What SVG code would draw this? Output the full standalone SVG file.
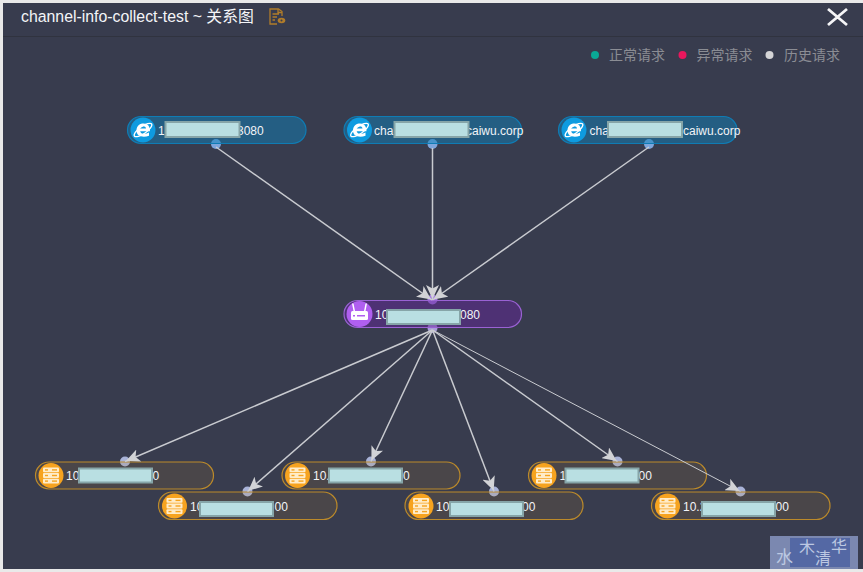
<svg xmlns="http://www.w3.org/2000/svg" width="863" height="572" viewBox="0 0 863 572">
<style>
text{font-family:"Liberation Sans","Noto Sans CJK SC",sans-serif}
.t{font-size:12px;fill:#f2f4f8}
.edge{stroke:#c9cbd0;stroke-width:1.5;fill:none;marker-end:url(#ah)}
.dot{fill:#a9b3d8}
.db{fill:#7ea6dc}
.pb{fill:#0f7fb8;fill-opacity:.5;stroke:#0f7cb4;stroke-width:1.2}
.pp{fill:#64269a;fill-opacity:.5;stroke:#9a62d4;stroke-width:1.2}
.po{fill:#b98a2c;fill-opacity:.14;stroke:#bc8a2a;stroke-width:1.2}
.mask{fill:#b9dfe2;stroke:#86a5a8;stroke-width:2}
.leg{font-size:14px;fill:#8b8d94}
</style>
<defs>
<marker id="ah" viewBox="0 0 14 13" refX="15" refY="6.500" markerWidth="14" markerHeight="13" orient="auto" markerUnits="userSpaceOnUse">
<path d="M0 0L14 6.500L0 13L3.500 6.500Z" fill="#d2d3d6"/>
</marker>
<g id="ie">
<circle r="12.500" fill="#0e9be0"/>
<ellipse cx="0" cy="0" rx="10.500" ry="3.600" fill="none" stroke="#fff" stroke-width="1.300" transform="rotate(-35)"/>
<path d="M-6.500 0.800C-6.500-5 -2.500-6.500 0.500-6.500C5-6.500 7-3.500 7 1.200H-2.800C-2.600 4 2 4.600 6 2.600V5.800C0 8 -6.500 6.400 -6.500 0.800ZM-2.800-1.400H3C2.800-4.400-2.400-4.400-2.800-1.400Z" fill="#fff" fill-rule="evenodd"/>
</g>
<g id="srv">
<circle r="12.500" fill="#f6a31f"/>
<g fill="#ffecc9">
<rect x="-8" y="-8" width="16" height="4.800" rx="1"/>
<rect x="-8" y="-2.400" width="16" height="4.800" rx="1"/>
<rect x="-8" y="3.200" width="16" height="4.800" rx="1"/>
</g>
<g fill="#f6a31f"><rect x="-6" y="-6.300" width="3" height="1.400"/><rect x="1" y="-6.300" width="5" height="1.400"/><rect x="-6" y="-.700" width="3" height="1.400"/><rect x="1" y="-.700" width="5" height="1.400"/><rect x="-6" y="4.900" width="3" height="1.400"/><rect x="1" y="4.900" width="5" height="1.400"/></g>
</g>
</defs>
<rect width="863" height="572" fill="#e9e9e9"/>
<rect x="3" y="3" width="860" height="566" fill="#383c4e"/>
<path d="M3 36.500H863" stroke="#30333f" stroke-width="1"/>
<g id="header">
<text x="21" y="22" font-size="15.850" fill="#f4f5f8">channel-info-collect-test ~ 关系图</text>
<g fill="none" stroke="#b07c2a" stroke-width="1.300">
<path d="M282 16V11.500L278.500 9H270V24H277"/>
<path d="M278 9V12.500H282M272.500 14H279M272.500 17H277M272.500 20H275"/>
</g>
<ellipse cx="281.500" cy="20.500" rx="3.800" ry="2.800" fill="#b07c2a"/><circle cx="281.500" cy="20.500" r="1" fill="#383c4e"/>
<path d="M828 9L847 25M847 9L828 25" stroke="#f5f5f7" stroke-width="2.800"/>
</g>
<g id="legend">
<circle cx="595" cy="55" r="4" fill="#0aa896"/><text x="609" y="60" class="leg">正常请求</text>
<circle cx="682.500" cy="55" r="4" fill="#e8175d"/><text x="696.500" y="60" class="leg">异常请求</text>
<circle cx="769.500" cy="55" r="4" fill="#d4d4d6"/><text x="784" y="60" class="leg">历史请求</text>
</g>
<g id="n1"><circle class="db" cx="216" cy="144" r="5"/><rect class="pb" x="127.500" y="116.500" width="178.500" height="27" rx="13.500"/><use href="#ie" x="143" y="130"/><text class="t" x="158" y="134.500">1</text><text class="t" x="237" y="134.500">3080</text><rect class="mask" x="165.500" y="122" width="74" height="15"/></g>
<g id="n2"><circle class="db" cx="432.500" cy="144" r="5"/><rect class="pb" x="344" y="116.500" width="177.500" height="27" rx="13.500"/><use href="#ie" x="359.500" y="130"/><text class="t" x="374" y="134.500">cha</text><text class="t" x="466" y="134.500">caiwu.corp</text><rect class="mask" x="394.500" y="122" width="74" height="15"/></g>
<g id="n3"><circle class="db" cx="649" cy="144" r="5"/><rect class="pb" x="558.500" y="116.500" width="178.500" height="27" rx="13.500"/><use href="#ie" x="574" y="130"/><text class="t" x="589.500" y="134.500">cha</text><text class="t" x="683" y="134.500">caiwu.corp</text><rect class="mask" x="608" y="122" width="74" height="15"/></g>
<g id="n4"><circle class="dot" cx="432.500" cy="299.500" r="5" style="fill:#a47fe0"/><circle class="dot" cx="432.500" cy="328" r="5" style="fill:#a99fd8"/><rect class="pp" x="344" y="300.500" width="177.500" height="27" rx="13.500"/><circle cx="359.500" cy="314" r="13" fill="#b05ff0"/><g fill="#fff"><rect x="351" y="311" width="17" height="9" rx="1.500"/><path d="M353.500 311L352 303.500H353.500L355 311ZM365.500 311L367 303.500H365.500L364 311Z"/></g><rect x="353" y="315" width="2" height="1.500" fill="#b05ff0"/><rect x="357" y="315" width="8" height="1.500" fill="#b05ff0"/><text class="t" x="375" y="318.500">10</text><text class="t" x="460" y="318.500">080</text><rect class="mask" x="387" y="310" width="73" height="14"/></g>
<g id="n5"><circle class="dot" cx="125" cy="461.500" r="5"/><rect class="po" x="35.500" y="462" width="178" height="27" rx="13.500"/><use href="#srv" x="51" y="475.500"/><text class="t" x="66" y="480">10</text><text class="t" x="152.500" y="480">0</text><rect class="mask" x="79" y="468.500" width="73" height="14"/></g>
<g id="n6"><circle class="dot" cx="247.500" cy="491.500" r="5"/><rect class="po" x="158.500" y="492" width="178.500" height="27.500" rx="13.700"/><use href="#srv" x="174.500" y="506"/><text class="t" x="190" y="510.500">10</text><text class="t" x="274.500" y="510.500">00</text><rect class="mask" x="200" y="502" width="73" height="14"/></g>
<g id="n7"><circle class="dot" cx="371" cy="461.500" r="5"/><rect class="po" x="282" y="462" width="178" height="27" rx="13.500"/><use href="#srv" x="297.500" y="475.500"/><text class="t" x="313" y="480">10.</text><text class="t" x="403" y="480">0</text><rect class="mask" x="329" y="468.500" width="73" height="14"/></g>
<g id="n8"><circle class="dot" cx="494" cy="491.500" r="5"/><rect class="po" x="405" y="492" width="178" height="27.500" rx="13.700"/><use href="#srv" x="421" y="506"/><text class="t" x="436" y="510.500">10</text><text class="t" x="522" y="510.500">00</text><rect class="mask" x="450" y="502" width="73" height="14"/></g>
<g id="n9"><circle class="dot" cx="617.500" cy="461.500" r="5"/><rect class="po" x="528.500" y="462" width="178" height="27" rx="13.500"/><use href="#srv" x="544" y="475.500"/><text class="t" x="559.500" y="480">1</text><text class="t" x="638.500" y="480">00</text><rect class="mask" x="565.500" y="468.500" width="73" height="14"/></g>
<g id="n10"><circle class="dot" cx="740.500" cy="491.500" r="5"/><rect class="po" x="651.500" y="492" width="178.500" height="27.500" rx="13.700"/><use href="#srv" x="667.500" y="506"/><text class="t" x="683" y="510.500">10.2</text><text class="t" x="775.500" y="510.500">00</text><rect class="mask" x="702" y="502" width="73" height="14"/></g>
<g id="connectors">
<path class="edge" d="M216 147L432 300"/>
<path class="edge" d="M432.500 148V300"/>
<path class="edge" d="M649 147L432.500 300"/>
<path class="edge" d="M432.500 330L125 461.500"/>
<path class="edge" d="M432.500 330L247.500 491.500"/>
<path class="edge" d="M432.500 330L371 461.500"/>
<path class="edge" d="M432.500 330L494 491.500"/>
<path class="edge" d="M432.500 330L617.500 461.500"/>
<path class="edge" d="M432.500 330L740.500 491.500" style="stroke-width:1"/>
</g>
<g id="watermark">
<rect x="770" y="536" width="88" height="33" fill="#7b88b0"/>
<rect x="790" y="538" width="60" height="29" fill="#5468a4"/>
<text x="776" y="563" font-size="17" fill="#bcc8e2">水</text><text x="799" y="553" font-size="16" fill="#bcc8e2">木</text><text x="815" y="564" font-size="16" fill="#bcc8e2">清</text><text x="831" y="552" font-size="16" fill="#bcc8e2">华</text>
</g>
</svg>
